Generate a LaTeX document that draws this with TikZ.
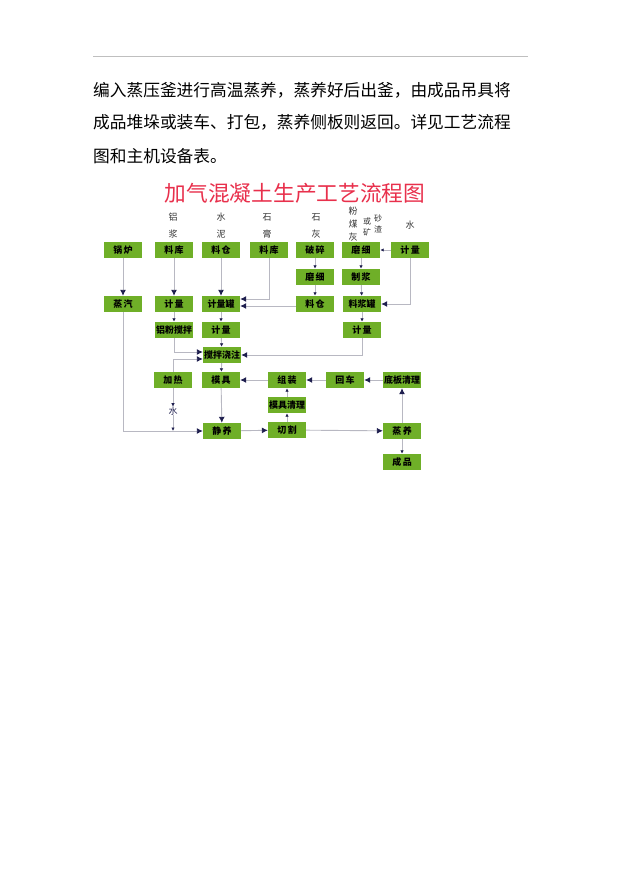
\documentclass[tikz,border=0pt]{standalone}
\usepackage{fontspec}
\usetikzlibrary{arrows.meta}
\newfontfamily\cjk{Noto Sans CJK SC}
\definecolor{boxgreen}{HTML}{6FAF28}
\definecolor{linegray}{HTML}{B8B8C2}
\definecolor{tipnavy}{HTML}{1E1E4E}
\definecolor{titlered}{HTML}{E8304C}

\begin{document}
\begin{tikzpicture}[x=1pt, y=-1pt,
  stepbox/.style={fill=boxgreen, minimum width=38pt, minimum height=16pt, inner sep=0pt,
    font=\cjk\bfseries\fontsize{9}{9}\selectfont},
  colname/.style={inner sep=0pt, text=black!80, font=\cjk\fontsize{9}{9}\selectfont},
  flow/.style={draw=linegray, line width=0.9pt, -{Latex[length=6pt, width=6pt, color=tipnavy]}},
  tiny/.style={draw=linegray, line width=0.9pt, -{Latex[length=3.5pt, width=3.5pt, color=tipnavy]}},
  bodytext/.style={anchor=west, inner sep=0pt, font=\cjk\fontsize{16.7}{16.7}\selectfont}]

\useasboundingbox (0,0) rectangle (621,877);

% page text
\draw[black!25, line width=0.8pt] (93,56) -- (528,56);
\node[bodytext] (line1) at (93,90) {编入蒸压釜进行高温蒸养，蒸养好后出釜，由成品吊具将};
\node[bodytext] (line2) at (93,122) {成品堆垛或装车、打包，蒸养侧板则返回。详见工艺流程};
\node[bodytext] (line3) at (93,156) {图和主机设备表。};

% title
\node[text=titlered, inner sep=0pt, font=\cjk\fontsize{21.7}{21.7}\selectfont] (title) at (295,193)
  {加气混凝土生产工艺流程图};

% raw materials
\foreach \x/\a/\b in {173/铝/浆, 221/水/泥, 267/石/膏, 316/石/灰}
{
  \node[colname] (up\x) at (\x,217) {\a};
  \node[colname] (lo\x) at (\x,234) {\b};
}
\node[colname] (fen) at (353,211) {粉};
\node[colname] (mei) at (353,224) {煤};
\node[colname] (hui) at (353,237) {灰};
\node[colname, font=\cjk\fontsize{8}{8}\selectfont] (huo) at (367,221) {或};
\node[colname, font=\cjk\fontsize{8}{8}\selectfont] (kuang) at (367,232) {矿};
\node[colname, font=\cjk\fontsize{8}{8}\selectfont] (sha) at (378,218) {砂};
\node[colname, font=\cjk\fontsize{8}{8}\selectfont] (zha) at (378,229) {渣};
\node[colname] (water) at (410,225) {水};

% boxes
\node[stepbox] (guolu) at (123,250) {锅\,炉};
\node[stepbox] (zhengqi) at (123,304) {蒸\,汽};
\node[stepbox] (liaoku1) at (174,250) {料\,库};
\node[stepbox] (jiliang1) at (174,304) {计\,量};
\node[stepbox] (lvfen) at (174,330) {铝粉搅拌};
\node[stepbox] (jiare) at (173,380) {加\,热};
\node[stepbox] (liaocang1) at (221,250) {料\,仓};
\node[stepbox] (jlguan) at (221,304) {计量罐};
\node[stepbox] (jiliang2) at (221,330) {计\,量};
\node[stepbox] (jiaoban) at (222,355) {搅拌浇注};
\node[stepbox] (muju) at (221,380) {模\,具};
\node[stepbox] (jingyang) at (222,431) {静\,养};
\node[stepbox] (liaoku2) at (269,250) {料\,库};
\node[stepbox] (posui) at (315,250) {破\,碎};
\node[stepbox] (moxi1) at (315,277) {磨\,细};
\node[stepbox] (liaocang2) at (315,304) {料\,仓};
\node[stepbox] (moxi2) at (361,250) {磨\,细};
\node[stepbox] (zhijiang) at (361,277) {制\,浆};
\node[stepbox] (ljguan) at (362,304) {料浆罐};
\node[stepbox] (jiliang3) at (362,330) {计\,量};
\node[stepbox] (jiliang4) at (410,250) {计\,量};
\node[stepbox] (zuzhuang) at (287,380) {组\,装};
\node[stepbox] (mjqingli) at (287,405) {模具清理};
\node[stepbox] (qiege) at (287,430) {切\,割};
\node[stepbox] (huiche) at (345,380) {回\,车};
\node[stepbox] (diban) at (402,380) {底板清理};
\node[stepbox] (zhengyang) at (402,431) {蒸\,养};
\node[stepbox] (chengpin) at (402,462) {成\,品};
\node[colname, text=tipnavy] (shui) at (173,411) {水};

% connectors
\draw[flow] (guolu) -- (zhengqi);
\draw[flow] (liaoku1) -- (jiliang1);
\draw[flow] (liaocang1) -- (jlguan);
\draw[flow] (liaoku2.south) |- ([yshift=5pt]jlguan.east);
\draw[flow] ([yshift=-2pt]liaocang2.west) -- ([yshift=-2pt]jlguan.east);
\draw[tiny] (posui) -- (moxi1);
\draw[tiny] (moxi1) -- (liaocang2);
\draw[tiny] (moxi2) -- (zhijiang);
\draw[tiny] (zhijiang) -- (ljguan);
\draw[tiny] (jiliang4.west) -- (moxi2.east);
\draw[flow] (jiliang4.south) |- (ljguan.east);
\draw[tiny] (ljguan) -- (jiliang3);
\draw[tiny] (jiliang1) -- (lvfen);
\draw[tiny] (jlguan) -- (jiliang2);
\draw[tiny] (jiliang2) -- (jiaoban);
\draw[flow] (lvfen.south) |- ([yshift=3pt]jiaoban.west);
\draw[flow] (jiare.north) |- ([yshift=-4pt]jiaoban.west);
\draw[flow] (jiliang3.south) |- (jiaoban.east);
\draw[tiny] (jiaoban) -- (muju);
\draw[flow] (muju) -- (jingyang);
\draw[flow] (zhengqi.south) |- (jingyang.west);
\draw[tiny] (jiare) -- (shui);
\draw[tiny] (shui) -- (shui |- jingyang.west);
\draw[flow] (zuzhuang) -- (muju);
\draw[flow] (huiche) -- (zuzhuang);
\draw[flow] (diban) -- (huiche);
\draw[tiny] (mjqingli) -- (zuzhuang);
\draw[tiny] (qiege) -- (mjqingli);
\draw[flow] (jingyang) -- (qiege);
\draw[flow] (qiege) -- (zhengyang);
\draw[flow] (zhengyang) -- (diban);
\draw[tiny] (zhengyang) -- (chengpin);
\end{tikzpicture}
\end{document}
